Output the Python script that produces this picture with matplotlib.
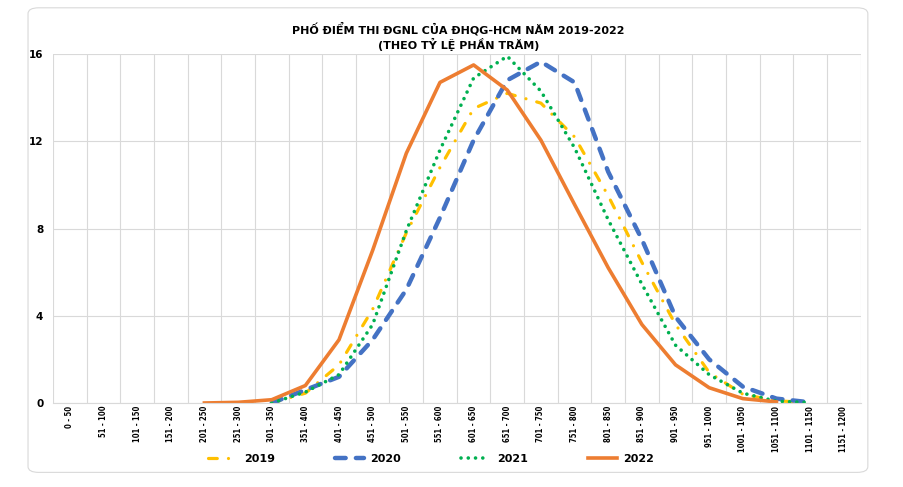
import matplotlib.pyplot as plt
from matplotlib.patches import FancyBboxPatch
import numpy as np

categories = ["0 - 50", "51 - 100", "101 - 150", "151 - 200", "201 - 250", "251 - 300",
              "301 - 350", "351 - 400", "401 - 450", "451 - 500", "501 - 550", "551 - 600",
              "601 - 650", "651 - 700", "701 - 750", "751 - 800", "801 - 850", "851 - 900",
              "901 - 950", "951 - 1000", "1001 - 1050", "1051 - 1100", "1101 - 1150", "1151 - 1200"]

nan = np.nan
pct_2019 = [nan, nan, nan, nan, nan, nan, 0.0, 0.45, 1.75, 4.3, 7.8, 10.8,
            13.5, 14.2, 13.75, 12.2, 9.5, 6.45, 3.6, 1.4, 0.4, 0.1, 0.02, nan]
pct_2020 = [nan, nan, nan, nan, nan, nan, 0.0, 0.6, 1.2, 2.9, 5.2, 8.5,
            12.05, 14.8, 15.65, 14.7, 10.6, 7.5, 3.95, 2.0, 0.75, 0.2, 0.03, nan]
pct_2021 = [nan, nan, nan, nan, nan, nan, 0.0, 0.5, 1.3, 3.6, 7.9, 11.6,
            14.9, 15.9, 14.3, 11.7, 8.4, 5.45, 2.65, 1.3, 0.45, 0.08, 0.02, nan]
pct_2022 = [nan, nan, nan, nan, 0.0, 0.03, 0.15, 0.8, 2.9, 7.0, 11.45, 14.7,
            15.5, 14.35, 12.05, 9.1, 6.2, 3.6, 1.75, 0.7, 0.2, 0.05, nan, nan]

yticks = [0, 4, 8, 12, 16]

plt.rcParams['font.family'] = ['DejaVu Sans']
plt.rcParams['font.weight'] = 'bold'

fig = plt.figure(figsize=(9.04, 4.87), dpi=100)
ax = fig.add_axes([0.0586, 0.1725, 0.8934, 0.7165])

# card background
card = FancyBboxPatch((0.031, 0.03), 0.929, 0.954, boxstyle="round,pad=0,rounding_size=0.012",
                      transform=fig.transFigure, facecolor='white', edgecolor='#D9D9D9',
                      linewidth=0.8, zorder=-10)
fig.patches.append(card)

x = np.arange(len(categories))
ax.plot(x, pct_2019, color='#FFC000', linewidth=2.3, linestyle=(0, (2.75, 3.5, 0.01, 3.5)),
        dash_capstyle='round', label='2019')
ax.plot(x, pct_2020, color='#4472C4', linewidth=3.2, linestyle=(0, (2.4, 2.3)),
        dash_capstyle='round', label='2020')
ax.plot(x, pct_2021, color='#00B050', linewidth=2.6, linestyle=(0, (0.01, 2.0)),
        dash_capstyle='round', label='2021')
ax.plot(x, pct_2022, color='#ED7D31', linewidth=2.6, linestyle='-', label='2022')

ax.set_xlim(-0.5, len(categories) - 0.5)
ax.set_ylim(0, 16)
ax.set_yticks(yticks)
ax.set_xticks(x)
ax.set_xticklabels(categories, rotation=90, fontsize=5.5, fontstretch='condensed', va='top')
ax.tick_params(axis='x', length=0, pad=2)
ax.tick_params(axis='y', length=0, pad=7, labelsize=7.5)

ax.set_xticks(np.arange(-0.5, len(categories)), minor=True)
ax.tick_params(axis='x', which='minor', length=0)
ax.grid(which='minor', axis='x', color='#D9D9D9', linewidth=0.8)
ax.grid(which='major', axis='y', color='#D9D9D9', linewidth=0.8)
ax.set_axisbelow(True)
for s in ['top', 'right', 'left']:
    ax.spines[s].set_visible(False)
ax.spines['bottom'].set_color('#D9D9D9')

fig.text(0.507, 0.955, "PHỐ ĐIỂM THI ĐGNL CỦA ĐHQG-HCM NĂM 2019-2022\n(THEO TỶ LỆ PHẦN TRĂM)",
         ha='center', va='top', fontsize=8, fontweight='bold', linespacing=1.2)

fig.legend(loc='center', bbox_to_anchor=(0.477, 0.058), ncol=4, frameon=False,
           fontsize=8, handlelength=2.6, handletextpad=0.6, columnspacing=5.4)

fig.savefig('out.png', dpi=100, facecolor='white')
